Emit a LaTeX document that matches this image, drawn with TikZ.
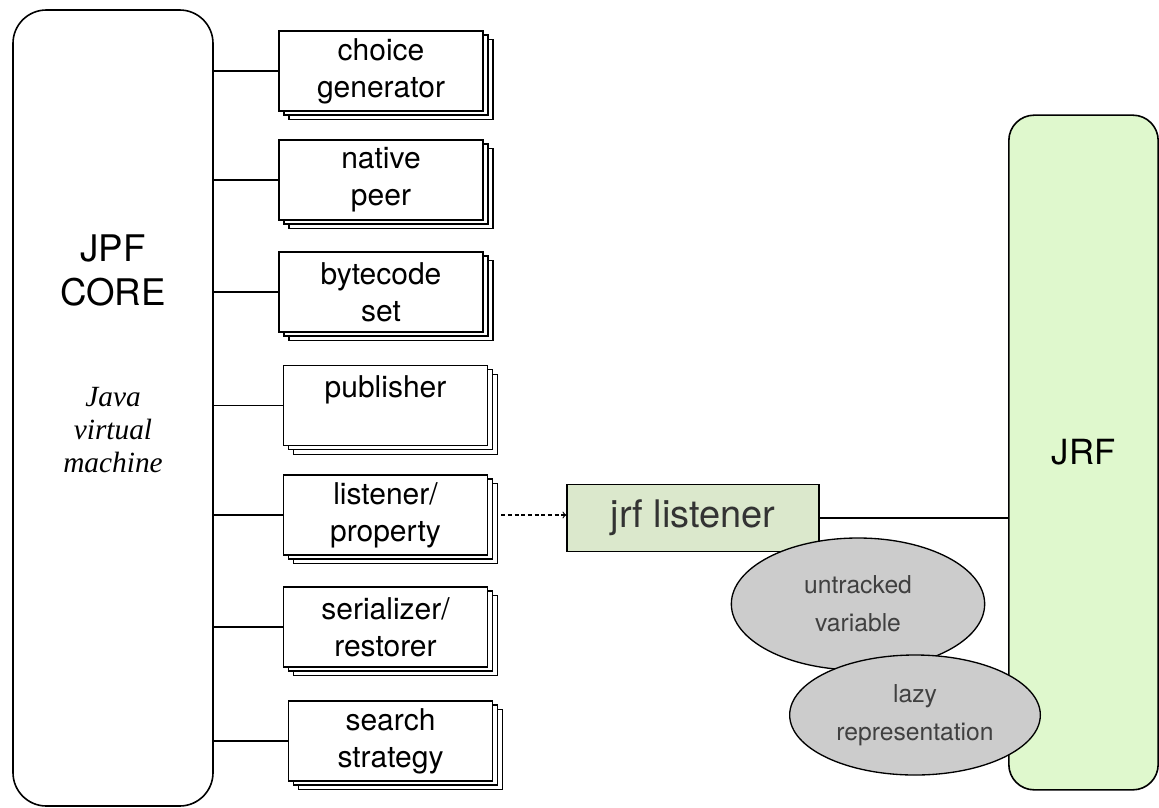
\documentclass[tikz,border=0pt]{standalone}
\usepackage{fontspec}
\setmainfont{TeX Gyre Heros}
\newfontfamily\javafont{Liberation Serif}
\usetikzlibrary{shapes.geometric,shadows}

\definecolor{listenergreen}{RGB}{219,232,204}
\definecolor{jrfgreen}{RGB}{223,248,205}
\definecolor{ideagray}{RGB}{204,204,204}

\tikzset{
	ext/.style={draw, fill=white, line width=1pt, minimum width=153pt, minimum height=60pt, align=center,
		font=\fontsize{22.5}{27.75}\selectfont,
		copy shadow={shadow xshift=7.5pt, shadow yshift=-6.5pt},
		copy shadow={shadow xshift=3.75pt, shadow yshift=-3pt}},
	idea/.style={ellipse, draw, fill=ideagray, line width=1pt, inner sep=0pt, align=center, text=black!75,
		font=\fontsize{18.5}{28.5}\selectfont},
	conn/.style={line width=0.9pt}
}

\begin{document}
\begin{tikzpicture}[x=0.75pt, y=-0.75pt]
		\useasboundingbox (0,0) rectangle (1159,807);
		% JPF core
		\node[draw, line width=1.2pt, rounded corners=25pt, minimum width=150pt, minimum height=597pt] (jpf) at (113,408) {};
		\node[font=\fontsize{27.5}{33}\selectfont, align=center] (jpftitle) at (113,270) {JPF\\CORE};
		\node[font=\javafont\itshape\fontsize{22}{24.75}\selectfont, align=center] (jvm) at (113,430) {Java\\virtual\\machine};
		
		% extensions
		\node[ext] (choice) at (381,71) {choice\\generator};
		\node[ext] (native) at (381,180) {native\\peer};
		\node[ext] (bytecode) at (381,292) {bytecode\\set};
		\node[ext] (publisher) at (385.5,405.5) {publisher\\~};
		\node[ext] (listener) at (385.5,515) {listener/\\property};
		\node[ext] (serializer) at (385.5,627) {serializer/\\restorer};
		\node[ext] (search) at (390.5,741) {search\\strategy};
		
		\draw[conn] (choice.west -| jpf.east) -- (choice.west);
		\draw[conn] (native.west -| jpf.east) -- (native.west);
		\draw[conn] (bytecode.west -| jpf.east) -- (bytecode.west);
		\draw[conn] (publisher.west -| jpf.east) -- (publisher.west);
		\draw[conn] (listener.west -| jpf.east) -- (listener.west);
		\draw[conn] (serializer.west -| jpf.east) -- (serializer.west);
		\draw[conn] (search.west -| jpf.east) -- (search.west);
		
		% JRF side
		\node[draw, fill=jrfgreen, line width=1.2pt, rounded corners=19pt, minimum width=112pt, minimum height=506pt, font=\fontsize{26}{30}\selectfont] (jrf) at (1083.5,452.5) {JRF};
		\node[draw, fill=listenergreen, line width=1.2pt, minimum width=189pt, minimum height=50pt, text=black!80, font=\fontsize{28.5}{34}\selectfont] (jrflistener) at (693,518) {jrf listener};
		
		\draw[->, densely dashed, conn] ([xshift=9.75pt]listener.east) -- (jrflistener.west |- listener.east);
		\draw[conn] (jrflistener.east) -- (jrflistener.east -| jrf.west);
		
		\node[idea, minimum width=190pt, minimum height=99pt] (untracked) at (858,604) {untracked\\variable};
		\node[idea, minimum width=188pt, minimum height=90pt] (lazy) at (915,715) {lazy\\representation};
	\end{tikzpicture}
\end{document}
